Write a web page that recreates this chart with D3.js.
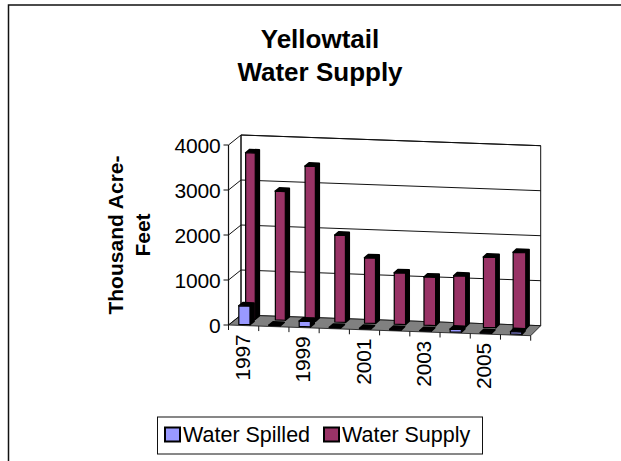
<!DOCTYPE html>
<html lang="en">
<head>
  <meta charset="UTF-8">
  <title>Yellowtail Water Supply</title>
  <style>
    html, body { margin: 0; padding: 0; background: #fff; }
    svg { display: block; }
    text { font-family: "Liberation Sans", Arial, sans-serif; fill: #000; }
  </style>
</head>
<body>
  <script src="https://d3js.org/d3.v7.min.js"></script>
  <script>
    const years = ['1997','1998','1999','2000','2001','2002','2003','2004','2005','2006'];
    const spilled = [410, 5, 120, 5, 5, 5, 5, 60, 5, 50];
    const supply = [3690, 2860, 3440, 1930, 1450, 1140, 1070, 1120, 1560, 1690];
    const yTicks = [0, 1000, 2000, 3000, 4000];
    const xLabels = ['1997','1999','2001','2003','2005'];
    const seriesNames = ['Water Spilled', 'Water Supply'];
    const seriesColors = ['#9999ff', '#993366'];

    const width = 621, height = 461;

    const svg = d3.select('body').append('svg')
      .attr('width', width)
      .attr('height', height);

    // chart frame, only left and top edges are in the crop
    svg.append('path')
      .attr('d', 'M8.5,461V5H621')
      .attr('fill', 'none')
      .attr('stroke', '#111')
      .attr('stroke-width', 1.5);

    // fake 3d: band position, depth 0..1 and value give a screen point
    const xFront = d3.scaleLinear().domain([0, 10]).range([228.5, 530.7]);
    const xBack = d3.scaleLinear().domain([0, 10]).range([241, 540.7]);
    const floorFront = d3.scaleLinear().domain([0, 10]).range([325, 335.7]);
    const floorBack = d3.scaleLinear().domain([0, 10]).range([315, 325.7]);
    const yHeight = d3.scaleLinear().domain([0, 4000]).range([0, 180]);
    // columns get wider to the right, the original has some perspective
    const barWidth = d3.scaleLinear().domain([0, 9]).range([0.32, 0.42]);

    function pt(b, d, v) {
      const x = xFront(b) + (xBack(b) - xFront(b)) * d;
      const y = floorFront(b) + (floorBack(b) - floorFront(b)) * d - yHeight(v);
      return [x, y];
    }
    const poly = pts => 'M' + pts.map(p => p.join(',')).join('L') + 'Z';

    // back wall and floor
    svg.append('path')
      .attr('d', poly([pt(0, 1, 4000), pt(10, 1, 4000), pt(10, 1, 0), pt(0, 1, 0)]))
      .attr('fill', '#fff').attr('stroke', '#111').attr('stroke-width', 1);
    svg.append('path')
      .attr('d', poly([pt(0, 0, 0), pt(10, 0, 0), pt(10, 1, 0), pt(0, 1, 0)]))
      .attr('fill', '#808080').attr('stroke', '#111').attr('stroke-width', 0.8);

    // gridlines on left wall and back wall
    yTicks.forEach(v => {
      const line = [pt(0, 0, v), pt(0, 1, v)];
      if (v > 0) line.push(pt(10, 1, v));
      svg.append('path')
        .attr('d', 'M' + line.map(p => p.join(',')).join('L'))
        .attr('fill', 'none').attr('stroke', '#111').attr('stroke-width', 1);
    });
    svg.append('path')
      .attr('d', 'M' + [pt(0, 0, 4000), pt(0, 0, 0)].map(p => p.join(',')).join('L'))
      .attr('stroke', '#111').attr('stroke-width', 1.2);
    svg.append('path')
      .attr('d', 'M' + [pt(0, 1, 4000), pt(0, 1, 0)].map(p => p.join(',')).join('L'))
      .attr('stroke', '#111').attr('stroke-width', 1);

    // y ticks and labels
    yTicks.forEach(v => {
      const p = pt(0, 0, v);
      svg.append('line')
        .attr('x1', p[0] - 5).attr('x2', p[0])
        .attr('y1', p[1]).attr('y2', p[1])
        .attr('stroke', '#111');
      svg.append('text')
        .attr('x', p[0] - 8).attr('y', p[1])
        .attr('dy', '0.36em')
        .attr('text-anchor', 'end')
        .style('font-size', '21px')
        .style('letter-spacing', '-0.2px')
        .text(v);
    });

    // x ticks and labels
    d3.range(0, 11).forEach(i => {
      const p = pt(i, 0, 0);
      svg.append('line')
        .attr('x1', p[0]).attr('x2', p[0])
        .attr('y1', p[1]).attr('y2', p[1] + 5)
        .attr('stroke', '#111');
    });
    xLabels.forEach(label => {
      const p = pt(years.indexOf(label) + 0.45, 0, 0);
      svg.append('text')
        .attr('transform', `translate(${p[0]},${p[1] + 9}) rotate(-90)`)
        .attr('dy', '0.36em')
        .attr('text-anchor', 'end')
        .style('font-size', '21px')
        .style('letter-spacing', '-0.2px')
        .text(label);
    });

    // one 3d column: side and top black, front in the series colour
    function column(b0, b1, d0, d1, v, color) {
      const g = svg.append('g');
      g.append('path')
        .attr('d', poly([pt(b1, d0, 0), pt(b1, d1, 0), pt(b1, d1, v), pt(b0, d1, v), pt(b0, d0, v), pt(b1, d0, v)]))
        .attr('fill', '#000').attr('stroke', '#000').attr('stroke-width', 1.6)
        .attr('stroke-linejoin', 'round');
      g.append('path')
        .attr('d', poly([pt(b0, d0, 0), pt(b1, d0, 0), pt(b1, d0, v), pt(b0, d0, v)]))
        .attr('fill', color).attr('stroke', '#000').attr('stroke-width', 1.2);
    }

    years.forEach((y, i) => {
      column(i + 0.62 - barWidth(i), i + 0.62, 0.65, 0.98, supply[i], seriesColors[1]);
    });
    years.forEach((y, i) => {
      column(i + 0.3, i + 0.67, 0.1, 0.43, spilled[i], seriesColors[0]);
    });

    // titles
    const title = svg.append('text')
      .attr('text-anchor', 'middle')
      .style('font-size', '26px')
      .style('font-weight', 'bold');
    title.append('tspan').attr('x', 320).attr('y', 48).text('Yellowtail');
    title.append('tspan').attr('x', 320).attr('y', 81).text('Water Supply');

    const yTitle = svg.append('text')
      .attr('transform', 'translate(123,235) rotate(-90)')
      .attr('text-anchor', 'middle')
      .style('font-size', '21px')
      .style('font-weight', 'bold');
    yTitle.append('tspan').attr('x', 0).attr('y', 0).text('Thousand Acre-');
    yTitle.append('tspan').attr('x', 0).attr('y', 27).text('Feet');

    // legend
    svg.append('rect')
      .attr('x', 157.5).attr('y', 417)
      .attr('width', 325).attr('height', 37)
      .attr('fill', '#fff').attr('stroke', '#111').attr('stroke-width', 1);
    const legendX = d3.scalePoint().domain(seriesNames).range([165, 324]);
    seriesNames.forEach((name, i) => {
      svg.append('rect')
        .attr('x', legendX(name)).attr('y', 427.5)
        .attr('width', 15).attr('height', 14)
        .attr('fill', seriesColors[i])
        .attr('stroke', '#000').attr('stroke-width', 2);
      svg.append('text')
        .attr('x', legendX(name) + 18).attr('y', 442)
        .style('font-size', '21.5px')
        .text(name);
    });
  </script>
</body>
</html>
